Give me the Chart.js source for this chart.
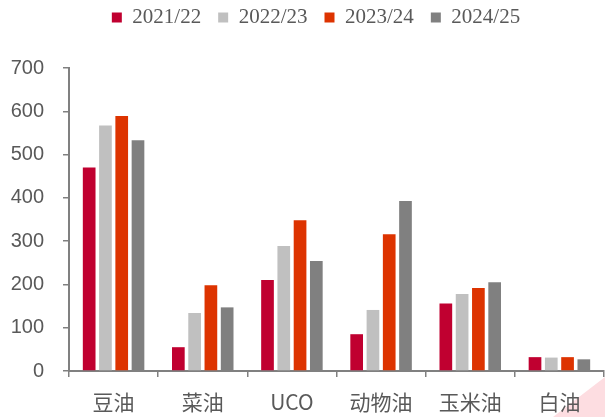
<!DOCTYPE html>
<html>
<head>
<meta charset="utf-8">
<script src="https://cdn.jsdelivr.net/npm/chart.js@4.4.1/dist/chart.umd.min.js"></script>
<style>
html,body{margin:0;padding:0;background:#fff;}
#wrap{position:relative;width:605px;height:417px;overflow:hidden;}
#tri{position:absolute;left:0;top:0;width:605px;height:417px;background:#FDDDE1;
clip-path:polygon(553px 417px,605px 377px,605px 417px);}
canvas{position:absolute;left:0;top:0;}
</style>
</head>
<body>
<div id="wrap"><div id="tri"></div><canvas id="c" width="605" height="417"></canvas></div>
<script>
const categories = ['豆油','菜油','UCO','动物油','玉米油','白油'];
const seriesNames = ['2021/22','2022/23','2023/24','2024/25'];
const s2021 = [470, 55, 210, 85, 156, 32];
const s2022 = [567, 134, 289, 141, 178, 31];
const s2023 = [589, 198, 348, 316, 192, 32];
const s2024 = [533, 147, 254, 393, 205, 27];
const colors = ['#C00030','#C0C0C0','#DD3300','#808080'];
const yTicks = [0,100,200,300,400,500,600,700];

const values = [s2021, s2022, s2023, s2024];
const datasets = seriesNames.map((n,i)=>({
  label:n, data:values[i], backgroundColor:colors[i], borderWidth:0,
  categoryPercentage:0.73, barPercentage:0.78
}));

const legendFix = {
  id:'legendFix',
  beforeUpdate(chart){
    const l = chart.legend;
    if(l && !l._patched){
      const orig = l.fit.bind(l);
      l.fit = function(){ orig(); this.height = 68; };
      l._patched = true;
    }
  },
  afterLayout(chart){
    const l = chart.legend;
    if(l){ l.top -= 10; l.bottom -= 10; l.left += 14; l.right += 14; }
  }
};

new Chart(document.getElementById('c'), {
  type:'bar',
  data:{labels:categories, datasets},
  plugins:[legendFix],
  options:{
    responsive:false, animation:false,
    layout:{padding:{left:0,right:1,top:0,bottom:0}},
    plugins:{
      tooltip:{enabled:false},
      legend:{
        position:'top',
        labels:{
          boxWidth:10, boxHeight:10, padding:17, color:'#595959',
          font:{family:'"Liberation Serif","Times New Roman",serif', size:21}
        }
      }
    },
    scales:{
      x:{
        afterFit(s){ s.height = 46; },
        grid:{display:true, drawOnChartArea:false, drawTicks:true, tickLength:6, color:'#808080', lineWidth:1.5},
        border:{display:true, color:'#808080', width:2},
        ticks:{color:'#595959', padding:12, maxRotation:0,
          font:{family:'"Noto Sans CJK SC","Liberation Sans",sans-serif', size:21}}
      },
      y:{
        min:0, max:700,
        afterFit(s){ s.width = 69; },
        afterBuildTicks(s){ s.ticks = yTicks.map(v=>({value:v})); },
        grid:{display:true, drawOnChartArea:false, drawTicks:true, tickLength:6, color:'#808080', lineWidth:1.5},
        border:{display:true, color:'#808080', width:2},
        ticks:{color:'#595959', padding:19,
          font:{family:'"Liberation Sans",Arial,sans-serif', size:20}}
      }
    }
  }
});
</script>
</body>
</html>
